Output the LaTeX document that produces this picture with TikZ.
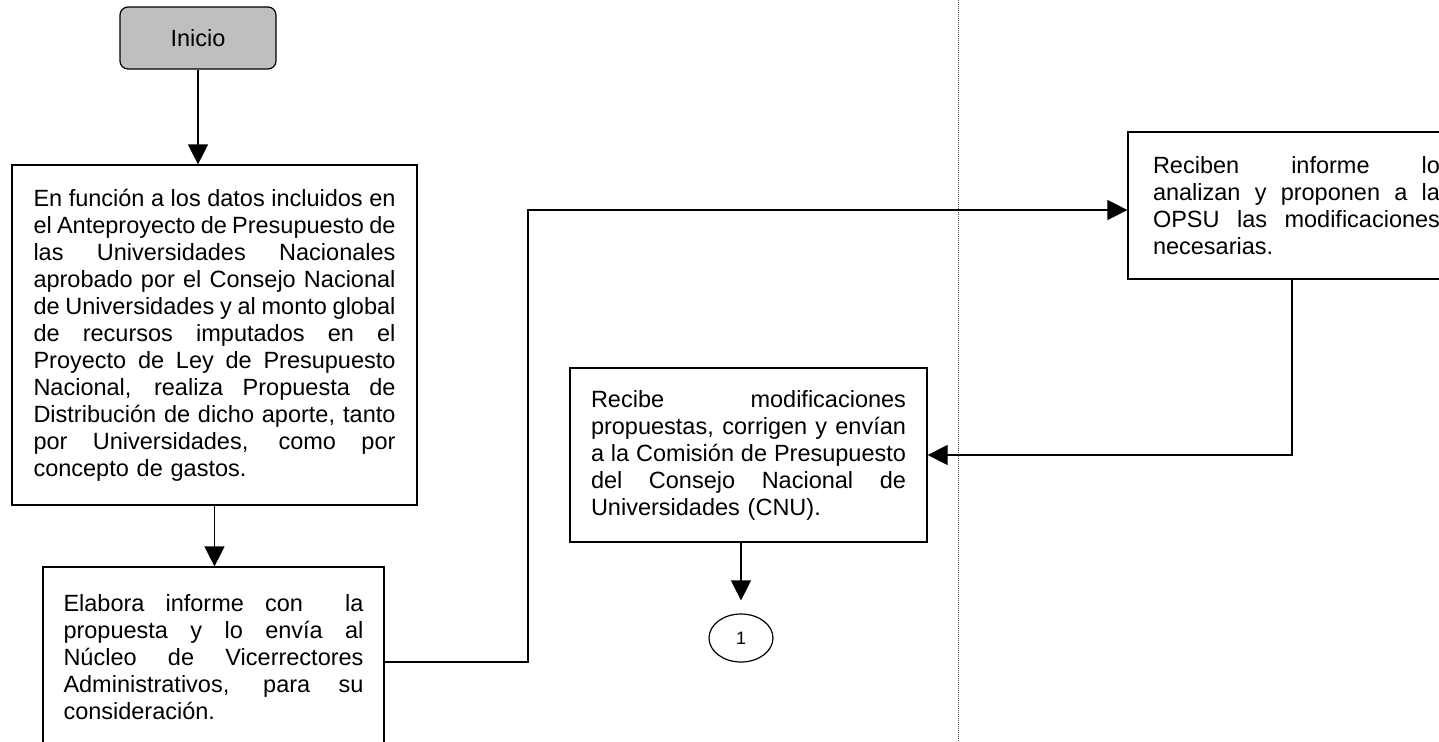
\documentclass[tikz,border=0pt]{standalone}
\usepackage{fontspec}
\setmainfont{Liberation Sans}
\usetikzlibrary{arrows.meta,shapes.geometric}

% una linea justificada dentro de la caja
\newcommand{\jline}[1]{\makebox[\hsize][s]{\spaceskip=0pt \xspaceskip=0pt #1}\\}

\tikzset{
  paso/.style={draw, line width=1.2pt, rectangle, align=left, inner ysep=0pt,
    font=\fontsize{23.5}{27}\selectfont},
  flecha/.style={line width=1.2pt, -{Triangle[width=20pt,length=20pt]}},
  divisor/.style={line width=1pt, densely dotted, black!70},
}

\begin{document}
\begin{tikzpicture}[x=1pt,y=-1pt]
    \useasboundingbox (0,0) rectangle (1439,741);
    \clip (0,0) rectangle (1439,741);

    % separador de columnas
    \draw[divisor] (958,0) -- (958,741);

    % Inicio
    \node[draw, line width=1.2pt, rounded corners=8pt, fill=black!25,
          minimum width=156pt, minimum height=62pt,
          font=\fontsize{23.5}{27}\selectfont] (inicio) at (198,38) {Inicio};

    % primera columna
    \node[paso, text width=362pt, inner xsep=21.5pt, minimum height=340pt] (grande) at (214.5,335) {%
      \jline{En función a los datos incluidos en}
      \jline{el Anteproyecto de Presupuesto de}
      \jline{las Universidades Nacionales}
      \jline{aprobado por el Consejo Nacional}
      \jline{de Universidades y al monto global}
      \jline{de recursos imputados en el}
      \jline{Proyecto de Ley de Presupuesto}
      \jline{Nacional, realiza Propuesta de}
      \jline{Distribución de dicho aporte, tanto}
      \jline{por Universidades, como por}
      concepto de gastos.};

    \node[paso, text width=300pt, inner xsep=20.5pt, minimum height=181pt] (elab) at (213.5,657.5) {%
      \jline{Elabora informe con \ la}
      \jline{propuesta y lo envía al}
      \jline{Núcleo de Vicerrectores}
      \jline{Administrativos, para su}
      consideración.};

    % segunda columna
    \node[paso, text width=315pt, inner xsep=21pt, minimum height=174pt] (recibe) at (748.5,455) {%
      \jline{Recibe modificaciones}
      \jline{propuestas, corrigen y envían}
      \jline{a la Comisión de Presupuesto}
      \jline{del Consejo Nacional de}
      Universidades (CNU).};

    \node[draw, line width=1.2pt, ellipse, minimum width=64pt, minimum height=48pt,
          font=\fontsize{18}{20}\selectfont] (con1) at (741,638) {1};

    % tercera columna
    \node[paso, text width=287pt, inner xsep=25pt, minimum height=147pt] (reciben) at (1296.5,205.5) {%
      \jline{Reciben informe lo}
      \jline{analizan y proponen a la}
      \jline{OPSU las modificaciones}
      necesarias.};

    % codos de las lineas
    \coordinate (q1) at (528,662);
    \coordinate (q2) at (528,210);
    \coordinate (q3) at (1292,455);

    \draw[flecha] (inicio.south) -- (inicio.south |- grande.north);
    \draw[flecha] (grande.south) -- (grande.south |- elab.north);
    \draw[flecha] (elab.east |- q1) -- (q1) -- (q2) -- (q2 -| reciben.west);
    \draw[flecha] (q3 |- reciben.south) -- (q3) -- (recibe.east);
    \draw[flecha] (con1.north |- recibe.south) -- ([yshift=13pt]con1.north);
\end{tikzpicture}
\end{document}
